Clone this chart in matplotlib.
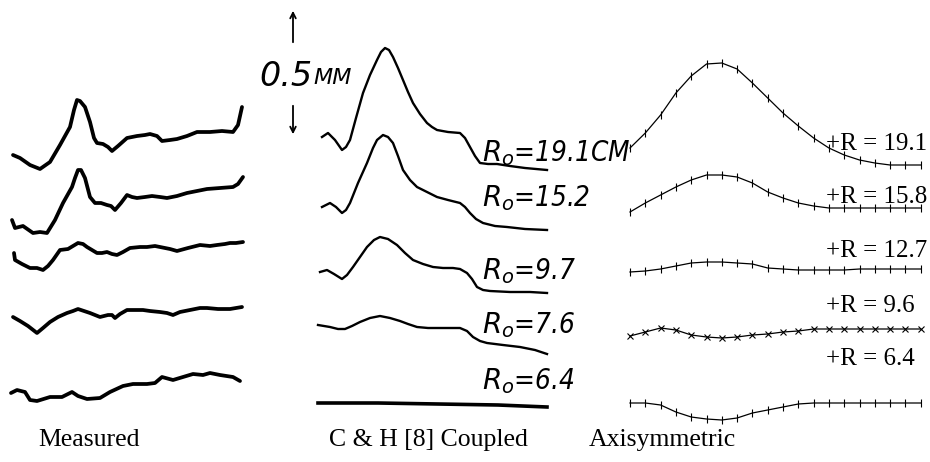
import matplotlib
matplotlib.use("Agg")
import matplotlib.pyplot as plt
from matplotlib import font_manager

# ---- values ----
# x = distance along the track, dy = deflection (up positive), both in scan units
measured_x = [
    [1, 8, 18, 28, 38, 48, 58, 62, 65, 68, 73, 78, 82, 85, 91, 96, 100, 106, 115, 125,
     133, 138, 145, 150, 158, 165, 175, 185, 198, 210, 221, 226, 230],
    [0, 3, 11, 21, 28, 35, 43, 51, 60, 63, 66, 69, 73, 78, 83, 89, 95, 99, 103, 109,
     115, 120, 125, 133, 140, 148, 155, 165, 175, 185, 195, 208, 221, 226, 231],
    [2, 3, 10, 18, 25, 31, 36, 41, 48, 56, 61, 66, 71, 75, 80, 85, 90, 95, 100, 105,
     111, 118, 128, 135, 143, 148, 158, 165, 176, 188, 198, 205, 213, 218, 224, 231],
    [1, 8, 16, 25, 31, 38, 46, 55, 61, 66, 72, 78, 88, 96, 100, 103, 108, 115, 123, 131,
     138, 148, 155, 161, 168, 178, 188, 195, 206, 218, 224, 230],
    [-1, 5, 13, 18, 25, 38, 50, 60, 66, 75, 88, 98, 111, 121, 135, 143, 150, 161, 171, 181,
     191, 198, 208, 221, 228],
]
measured_dy = [
    [0, -3, -10, -14, -7, 10, 28, 45, 55, 54, 48, 33, 17, 12, 11, 8, 4, 9, 17, 19,
     20, 21, 19, 14, 15, 16, 19, 23, 23, 24, 23, 30, 48],
    [0, -8, -6, -13, -12, -13, 0, 17, 33, 42, 50, 50, 42, 23, 17, 17, 15, 14, 10, 17,
     25, 23, 22, 23, 24, 23, 22, 24, 27, 29, 31, 32, 33, 36, 43],
    [0, -7, -11, -15, -15, -17, -13, -7, 3, 4, 7, 10, 9, 6, 3, 0, 0, 1, -1, -2,
     1, 5, 6, 6, 7, 6, 4, 2, 5, 8, 7, 8, 9, 10, 10, 11],
    [0, -4, -9, -16, -11, -5, 0, 4, 6, 8, 6, 4, 0, 2, 2, -1, 3, 7, 7, 7,
     6, 5, 4, 2, 5, 7, 9, 9, 8, 8, 9, 10],
    [0, 3, 1, -7, -8, -4, -4, 1, -3, -6, -5, 1, 7, 9, 9, 10, 16, 13, 16, 19,
     18, 20, 18, 16, 12],
]

ch_labels = ["19.1CM", "15.2", "9.7", "7.6", "6.4"]
ch_x = [
    [4, 10, 17, 24, 28, 32, 38, 45, 52, 59, 63, 67, 71, 75, 80, 85, 90, 95, 102, 109,
     114, 119, 130, 142, 147, 152, 157, 162, 170, 179, 192, 207, 229],
    [4, 12, 18, 24, 28, 32, 40, 49, 55, 59, 65, 70, 75, 80, 85, 92, 99, 109, 119, 130,
     142, 147, 152, 158, 165, 177, 189, 207, 229],
    [2, 9, 16, 24, 29, 35, 42, 49, 56, 62, 70, 79, 87, 95, 105, 115, 125, 135, 142, 149,
     154, 159, 165, 172, 192, 212, 229],
    [0, 6, 12, 20, 27, 34, 42, 52, 62, 72, 82, 90, 99, 110, 122, 132, 142, 149, 155, 162,
     169, 177, 185, 202, 217, 229],
    [0, 60, 120, 180, 229],
]
ch_dy = [
    [0, 4, -3, -13, -10, -3, 19, 44, 62, 77, 85, 89, 87, 80, 69, 57, 45, 34, 23, 14,
     10, 7, 5, 4, -1, -10, -19, -26, -27, -27, -29, -31, -33],
    [0, 4, 0, -6, -3, 4, 24, 44, 59, 67, 72, 70, 64, 51, 37, 27, 20, 15, 10, 7,
     4, 0, -6, -12, -16, -19, -20, -22, -23],
    [0, 2, -2, -7, -3, 5, 15, 25, 32, 35, 33, 27, 19, 12, 8, 5, 4, 4, 3, -1,
     -7, -15, -18, -19, -20, -20, -21],
    [0, -1, -2, -4, -4, -1, 3, 7, 9, 7, 4, 1, -2, -3, -3, -3, -3, -6, -12, -16,
     -18, -19, -20, -22, -25, -29],
    [0, 0, -1, -2, -4],
]

axi_labels = ["19.1", "15.8", "12.7", "9.6", "6.4"]
axi_station = [0, 1, 2, 3, 4, 5, 6, 7, 8, 9, 10, 11, 12, 13, 14, 15, 16, 17, 18, 19]
axi_dy = [
    [17, 32, 50, 72, 89, 101, 102, 96, 82, 67, 52, 39, 27, 17, 10, 5, 2, 0, 0, 0],
    [-4, 5, 13, 21, 28, 33, 33, 31, 25, 16, 10, 5, 2, 0, 0, 0, 0, 0, 0, 0],
    [-2, -1, 1, 4, 7, 8, 8, 7, 6, 2, 1, 0, 0, 0, 0, 1, 1, 1, 1, 1],
    [-7, -3, 1, -1, -6, -8, -9, -8, -6, -5, -3, -2, 0, 0, 0, 0, 0, 0, 0, 0],
    [0, 0, -2, -9, -14, -16, -17, -15, -10, -7, -4, -1, 0, 0, 0, 0, 0, 0, 0, 0],
]

panel_titles = ["Measured", "C & H [8] Coupled", "Axisymmetric"]

# ---- layout (pixels, y measured from the top of the page) ----
W, H = 930, 462
meas_left, meas_base = 12, [155, 220, 253, 317, 393]
ch_left, ch_base = 318, [137, 207, 272, 325, 403]
ch_label_x, ch_label_y = 482, [153, 198, 271, 325, 381]
axi_left, axi_step, axi_base = 630, 15.3, [165, 208, 270, 329, 403]
axi_label_x, axi_label_y = 826, [144, 197, 251, 306, 359]
title_x, title_y = [89, 428, 662], 440


def up(y):
    return H - y


names = {f.name for f in font_manager.fontManager.ttflist}
hand = "Liberation Sans Narrow" if "Liberation Sans Narrow" in names else "DejaVu Sans"
serif = "Liberation Serif" if "Liberation Serif" in names else "DejaVu Serif"
plt.rcParams.update({"mathtext.fontset": "custom",
                     "mathtext.it": hand + ":italic",
                     "mathtext.rm": hand})

fig = plt.figure(figsize=(W / 100, H / 100), dpi=100)
ax = fig.add_axes([0, 0, 1, 1])
ax.set_xlim(0, W)
ax.set_ylim(0, H)
ax.axis("off")

# measured traces
for xs, dys, b in zip(measured_x, measured_dy, meas_base):
    ax.plot([meas_left + x for x in xs], [up(b) + d for d in dys],
            color="black", lw=2.7, solid_joinstyle="round", solid_capstyle="round")

# C & H coupled traces
for i, (xs, dys, b) in enumerate(zip(ch_x, ch_dy, ch_base)):
    ax.plot([ch_left + x for x in xs], [up(b) + d for d in dys],
            color="black", lw=2.6 if i == 4 else 1.7, solid_joinstyle="round")
    ax.text(ch_label_x, up(ch_label_y[i]), r"$R_o$=" + ch_labels[i],
            family=hand, style="italic", fontstretch="condensed", fontsize=20,
            ha="left", va="center")

# axisymmetric traces with station ticks
for i, (dys, b) in enumerate(zip(axi_dy, axi_base)):
    ax.plot([axi_left + s * axi_step for s in axi_station], [up(b) + d for d in dys],
            color="black", lw=0.9, marker="x" if i == 3 else "|",
            ms=4 if i == 3 else 6, mew=0.8)
    ax.text(axi_label_x, up(axi_label_y[i]), "+R = " + axi_labels[i],
            family=serif, fontsize=18, ha="left", va="center")

# 0.5 mm scale marker
ax.annotate("", xy=(293, up(8)), xytext=(293, up(45)),
            arrowprops=dict(arrowstyle="->", lw=1.3, color="black"))
ax.annotate("", xy=(293, up(137)), xytext=(293, up(103)),
            arrowprops=dict(arrowstyle="->", lw=1.3, color="black"))
ax.text(312, up(76), "0.5", family=hand, style="italic", fontsize=24,
        ha="right", va="center")
ax.text(313, up(78), "MM", family=hand, style="italic", fontsize=16,
        ha="left", va="center")

for t, x in zip(panel_titles, title_x):
    ax.text(x, up(title_y), t, family=serif, fontsize=18.5, ha="center", va="center")

fig.savefig("out.png", dpi=100)
